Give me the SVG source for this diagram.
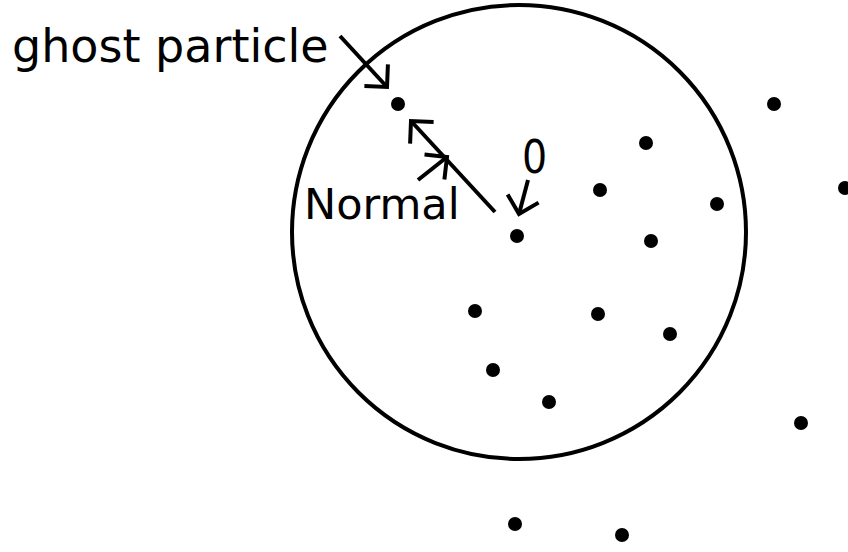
<svg xmlns="http://www.w3.org/2000/svg" width="848" height="552" viewBox="0 0 848 552">
<style>
.lbl{font-family:"DejaVu Sans","Liberation Sans",sans-serif;fill:#000}
.dot{fill:#000}
.conn{stroke:#000;stroke-width:4;fill:none;stroke-linecap:butt}
</style>
<defs>
<marker id="ah" markerUnits="userSpaceOnUse" viewBox="-20 -20 24 40" markerWidth="24" markerHeight="40" refX="0" refY="0" orient="auto" overflow="visible">
<path d="M-16,-16 L0,0 L-16,16" fill="none" stroke="#000" stroke-width="4"/>
</marker>
</defs>
<rect width="848" height="552" fill="#fff"/>
<g id="circle"><circle cx="519" cy="232" r="227" fill="none" stroke="#000" stroke-width="4"/></g>
<g id="particles">
<circle class="dot" cx="398" cy="104" r="7"/>
<circle class="dot" cx="774" cy="104" r="7"/>
<circle class="dot" cx="646" cy="143" r="7"/>
<circle class="dot" cx="845" cy="188" r="7"/>
<circle class="dot" cx="600" cy="190" r="7"/>
<circle class="dot" cx="717" cy="204" r="7"/>
<circle class="dot" cx="517" cy="236" r="7"/>
<circle class="dot" cx="651" cy="241" r="7"/>
<circle class="dot" cx="475" cy="311" r="7"/>
<circle class="dot" cx="598" cy="314" r="7"/>
<circle class="dot" cx="670" cy="334" r="7"/>
<circle class="dot" cx="493" cy="370" r="7"/>
<circle class="dot" cx="549" cy="402" r="7"/>
<circle class="dot" cx="801" cy="423" r="7"/>
<circle class="dot" cx="515" cy="524" r="7"/>
<circle class="dot" cx="622" cy="535" r="7"/>
</g>
<g id="labels">
<text class="lbl" x="12" y="62" font-size="46">ghost particle</text>
<text class="lbl" x="304" y="219" font-size="43">Normal</text>
<text class="lbl" x="0" y="0" font-size="46" transform="translate(522,173) scale(0.86,1)">0</text>
</g>
<g id="connectors">
<line class="conn" x1="340" y1="36" x2="387" y2="87" marker-end="url(#ah)"/>
<line class="conn" x1="495" y1="212" x2="411" y2="121" marker-end="url(#ah)"/>
<line class="conn" x1="418" y1="180" x2="447" y2="157" marker-end="url(#ah)"/>
<line class="conn" x1="528" y1="180" x2="519" y2="214" marker-end="url(#ah)"/>
</g>
</svg>
